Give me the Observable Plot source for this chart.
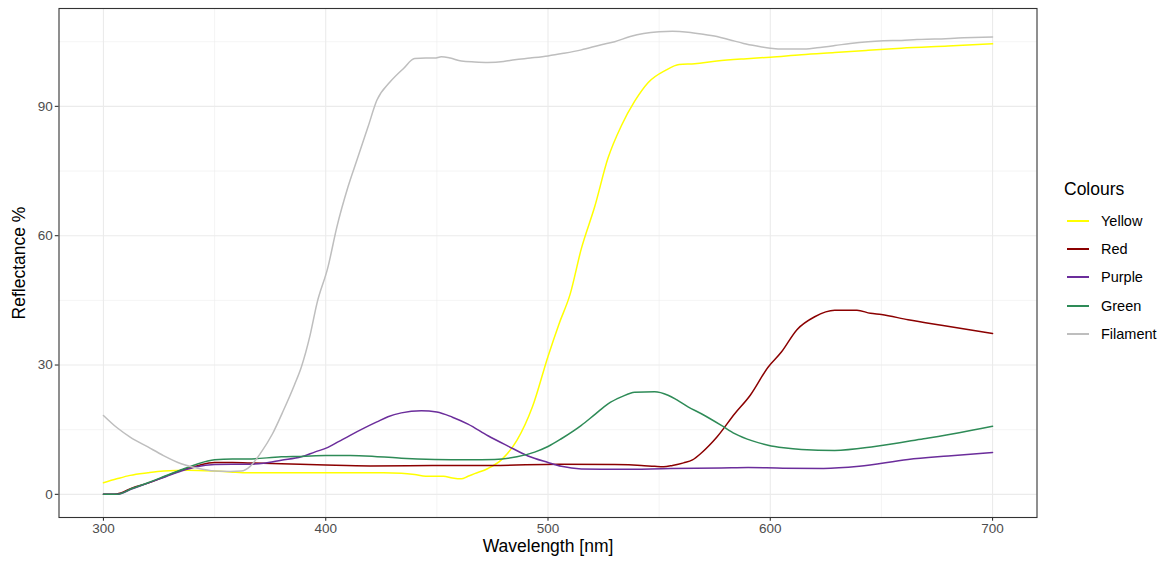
<!DOCTYPE html>
<html>
<head>
<meta charset="utf-8">
<script src="https://cdn.jsdelivr.net/npm/d3@7"></script>
<script src="https://cdn.jsdelivr.net/npm/@observablehq/plot@0.6"></script>
<style>
  body { margin: 0; background: #fff; font-family: "Liberation Sans", Arial, sans-serif; }
  #wrap { position: relative; width: 1165px; height: 563px; }
  #legend { position: absolute; left: 1064px; top: 0; font-family: "Liberation Sans", Arial, sans-serif; }
  #legend .title { position: absolute; top: 177px; left: 0; font-size: 17.5px; color: #000; height: 24px; line-height: 24px; white-space: nowrap; }
  #legend .item { position: absolute; left: 0; height: 20px; width: 100px; }
  #legend .key { position: absolute; left: 3px; width: 22px; height: 2px; top: 9px; }
  #legend .lab { position: absolute; left: 37px; top: 0; font-size: 14.5px; color: #000; line-height: 20px; white-space: nowrap; }
</style>
</head>
<body>
<div id="wrap"></div>
<script>
// Series names and colours
const seriesNames = ["Yellow", "Red", "Purple", "Green", "Filament"];
const seriesColors = ["#FFFF00", "#8B0000", "#6B2D9B", "#2E8B57", "#BEBEBE"];

// Tick values
const xTicks = [300, 400, 500, 600, 700];
const xMinor = [350, 450, 550, 650];
const yTicks = [0, 30, 60, 90];
const yMinor = [15, 45, 75, 105];

// [wavelength nm, reflectance %]
const yellow = [[300,2.7],[306,3.6],[312,4.4],[320,5.0],[327,5.4],[338,5.6],[350,5.4],[357,5.2],[365,5.0],[380,5.0],[400,5.0],[426,5.0],[434,4.9],[440,4.6],[445,4.2],[453,4.2],[457,3.8],[461,3.6],[464,4.2],[467,4.8],[473,6.0],[479,8.0],[486,12.5],[493,20.3],[500,32],[505,39.6],[510,46.5],[515,57],[521,66.7],[527,78],[533,85.5],[539,91.2],[545,95.5],[553,98.4],[559,99.7],[566,99.9],[576,100.5],[588,101],[600,101.4],[614,102],[629,102.5],[644,103],[659,103.5],[680,104],[700,104.5]];

const red = [[300,0],[306,0.1],[313,1.5],[320,2.6],[328,4.2],[335,5.6],[342,6.6],[350,7.4],[358,7.4],[365,7.3],[380,7.1],[400,6.8],[420,6.6],[450,6.7],[475,6.7],[505,7.0],[530,6.9],[542,6.7],[548,6.5],[552,6.4],[556,6.7],[561,7.3],[565,8.0],[569,9.6],[576,13.3],[584,18.7],[591,23],[599,29.5],[605,33],[612,38.2],[620,41.2],[629,42.7],[639,42.7],[645,42],[650,41.7],[662,40.5],[677,39.2],[700,37.3]];

const purple = [[300,0],[306,0],[313,1.3],[320,2.6],[328,4.1],[335,5.4],[342,6.4],[350,6.9],[358,7.0],[365,7.0],[372,7.2],[380,7.9],[389,8.7],[395,9.8],[401,10.9],[406,12.3],[411,13.7],[417,15.3],[423,16.8],[428,18.0],[434,18.9],[443,19.4],[450,19.1],[457,17.9],[464,16.3],[473,13.6],[482,11.2],[491,8.9],[500,7.4],[506,6.5],[515,5.9],[533,5.8],[555,6.0],[578,6.1],[590,6.2],[603,6.1],[624,6.0],[640,6.5],[662,8.1],[680,8.9],[700,9.7]];

const green = [[300,0],[306,0],[313,1.4],[320,2.7],[328,4.3],[335,5.7],[342,7.0],[350,8.0],[358,8.2],[365,8.2],[380,8.7],[389,8.8],[400,9.0],[411,9.0],[422,8.8],[434,8.4],[449,8.1],[464,8.0],[476,8.1],[486,8.7],[494,9.8],[500,11.1],[506,12.9],[515,16],[521,18.5],[527,21],[533,22.6],[539,23.7],[548,23.8],[554,23],[558,21.9],[563,20.3],[569,18.7],[578,16],[584,14.1],[592,12.4],[599,11.4],[606,10.8],[614,10.4],[629,10.2],[647,11.1],[669,12.9],[685,14.3],[700,15.8]];

const filament = [[300,18.3],[306,15.5],[312,13.3],[320,11.0],[327,9.0],[335,7.1],[342,6.1],[350,5.4],[357,5.3],[362,5.4],[366,6.5],[371,9.8],[376,14],[381,19.5],[386,25.5],[389,29.5],[393,37],[396,44.2],[401,52.7],[405,62],[410,71.3],[414,77.5],[419,85.2],[423,91.4],[429,95.7],[435,98.8],[440,101.1],[445,101.2],[449,101.2],[452,101.5],[456,101.2],[461,100.5],[467,100.3],[473,100.2],[480,100.4],[485,100.8],[492,101.2],[500,101.7],[507,102.3],[515,103.1],[524,104.3],[530,105.0],[537,106.2],[543,106.9],[550,107.3],[556,107.4],[563,107.2],[569,106.8],[576,106.2],[582,105.4],[588,104.6],[594,104.0],[600,103.5],[607,103.3],[614,103.3],[621,103.6],[629,104.1],[636,104.6],[644,105.0],[651,105.2],[659,105.3],[666,105.5],[674,105.6],[687,105.9],[700,106.1]];

const seriesData = [yellow, red, purple, green, filament];

const rows = [];
seriesData.forEach((arr, i) => arr.forEach(([nm, v]) => rows.push({nm, v, s: seriesNames[i]})));

const gridCol = "#EBEBEB";
const chart = Plot.plot({
  width: 1165, height: 563,
  marginLeft: 58.5, marginRight: 128.5, marginTop: 8, marginBottom: 46,
  style: {fontFamily: "'Liberation Sans', Arial, sans-serif", background: "#fff"},
  x: {domain: [280, 720]},
  y: {domain: [-5.37, 112.7]},
  marks: [
    Plot.gridX(xMinor, {stroke: gridCol, strokeOpacity: 1, strokeWidth: 0.55}),
    Plot.gridY(yMinor, {stroke: gridCol, strokeOpacity: 1, strokeWidth: 0.55}),
    Plot.gridX(xTicks, {stroke: gridCol, strokeOpacity: 1, strokeWidth: 1.1}),
    Plot.gridY(yTicks, {stroke: gridCol, strokeOpacity: 1, strokeWidth: 1.1}),
    ...seriesNames.map((name, i) => Plot.line(rows.filter(d => d.s === name), {
      x: "nm", y: "v", stroke: seriesColors[i], strokeWidth: 1.5, curve: "monotone-x"
    })),
    Plot.frame({stroke: "#333333", strokeWidth: 1.1}),
    Plot.axisX(xTicks, {tickSize: 3.7, tickPadding: 2.5, stroke: "#333333", strokeWidth: 1.1, color: "#4D4D4D", fontSize: 13.5, label: null}),
    Plot.axisY(yTicks, {tickSize: 3.7, tickPadding: 2.5, stroke: "#333333", strokeWidth: 1.1, color: "#4D4D4D", fontSize: 13.5, label: null}),
    Plot.text(["Wavelength [nm]"], {frameAnchor: "bottom", dy: 34, fontSize: 17.5, fill: "#000", textAnchor: "middle"}),
    Plot.text(["Reflectance %"], {frameAnchor: "left", dx: -40, rotate: -90, fontSize: 17.5, fill: "#000", textAnchor: "middle"})
  ]
});
document.getElementById("wrap").appendChild(chart);

// Legend
const leg = document.createElement("div");
leg.id = "legend";
const t = document.createElement("div");
t.className = "title";
t.textContent = "Colours";
leg.appendChild(t);
seriesNames.forEach((name, i) => {
  const it = document.createElement("div");
  it.className = "item";
  it.style.top = (211 + i * 28.2) + "px";
  const k = document.createElement("div");
  k.className = "key";
  k.style.background = seriesColors[i];
  const l = document.createElement("div");
  l.className = "lab";
  l.textContent = name;
  it.appendChild(k); it.appendChild(l);
  leg.appendChild(it);
});
document.getElementById("wrap").appendChild(leg);
</script>
</body>
</html>
